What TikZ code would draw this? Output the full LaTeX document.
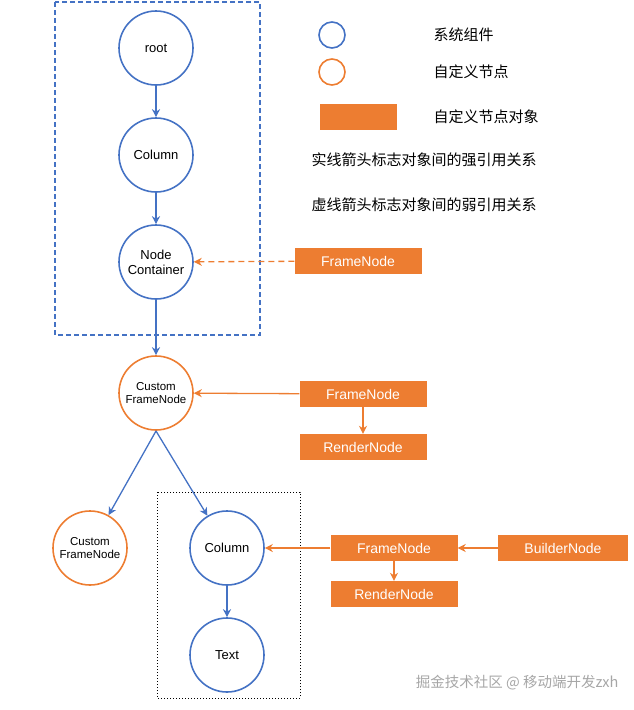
\documentclass[tikz,border=0pt]{standalone}
\usepackage{fontspec}
\setmainfont{Liberation Sans}
\newfontfamily\cjk{Noto Sans CJK SC}
\usetikzlibrary{arrows.meta}
\definecolor{sysblue}{RGB}{68,114,196}
\definecolor{cusorange}{RGB}{237,125,49}
\tikzset{
  sys/.style={circle,draw=sysblue,line width=1.6pt,minimum size=74pt,inner sep=0pt,font=\fontsize{13}{15}\selectfont,align=center},
  cus/.style={circle,draw=cusorange,line width=1.6pt,minimum size=74pt,inner sep=0pt,font=\fontsize{11.5}{13.5}\selectfont,align=center},
  obj/.style={fill=cusorange,text=white,minimum width=127pt,minimum height=26pt,inner sep=0pt,font=\fontsize{14}{16}\selectfont},
  barrow/.style={draw=sysblue,line width=1.3pt,-{Stealth[length=8pt,width=8pt]}},
  oarrow/.style={draw=cusorange,line width=1.3pt,-{Stealth[length=8pt,width=8pt]}},
  legend/.style={anchor=west,font=\cjk\fontsize{15}{17}\selectfont}
}
\begin{document}
\begin{tikzpicture}[x=1pt,y=-1pt]
\useasboundingbox (0,0) rectangle (634,710);
% system nodes
\draw[sysblue,line width=1.3pt,dash pattern=on 5pt off 3pt] (55,2) rectangle (260,335);
\node[sys] (root) at (156,48) {root};
\node[sys] (col1) at (156,155) {Column};
\node[sys] (nc) at (156,262) {Node\\Container};
\draw[barrow] (root) -- (col1);
\draw[barrow] (col1) -- (nc);
\node[obj] (fn1) at (358,261) {FrameNode};
\draw[oarrow,dash pattern=on 6pt off 4pt] (fn1) -- (nc);
% custom frame node
\node[cus] (cf1) at (156,393) {Custom\\FrameNode};
\draw[barrow] (nc) -- (cf1);
\node[obj] (fn2) at (363,394) {FrameNode};
\node[obj] (rn2) at (363,447) {RenderNode};
\draw[oarrow] (fn2) -- (cf1);
\draw[oarrow] (fn2) -- (rn2);
\node[cus] (cf2) at (90,548) {Custom\\FrameNode};
\node[sys] (col2) at (227,548) {Column};
\node[sys] (txt) at (227,655) {Text};
\draw[black,line width=1pt,dotted] (157,492) rectangle (300,698);
\coordinate (split) at (156,431);
\draw[barrow] (split) -- (cf2);
\draw[barrow] (split) -- (col2);
\draw[barrow] (col2) -- (txt);
\node[obj] (fn3) at (394,548) {FrameNode};
\node[obj,minimum width=130pt] (bn) at (563,548) {BuilderNode};
\node[obj] (rn3) at (394,594) {RenderNode};
\draw[oarrow] (fn3) -- (col2);
\draw[oarrow] (bn) -- (fn3);
\draw[oarrow] (fn3) -- (rn3);
% legend
\node[circle,draw=sysblue,line width=1.6pt,minimum size=26pt,inner sep=0pt] (lg1) at (332,35) {};
\node[circle,draw=cusorange,line width=1.6pt,minimum size=26pt,inner sep=0pt] (lg2) at (332,72) {};
\node[fill=cusorange,minimum width=77pt,minimum height=26pt,inner sep=0pt] (lg3) at (358,117) {};
\node[legend] (t1) at (430,35) {系统组件};
\node[legend] (t2) at (430,72) {自定义节点};
\node[legend] (t3) at (430,117) {自定义节点对象};
\node[legend] (t4) at (308,160) {实线箭头标志对象间的强引用关系};
\node[legend] (t5) at (308,205) {虚线箭头标志对象间的弱引用关系};
\node[anchor=east,text=gray!70,font=\cjk\fontsize{14.5}{16}\selectfont] (wm) at (622,683) {掘金技术社区 @ 移动端开发zxh};
\end{tikzpicture}
\end{document}
